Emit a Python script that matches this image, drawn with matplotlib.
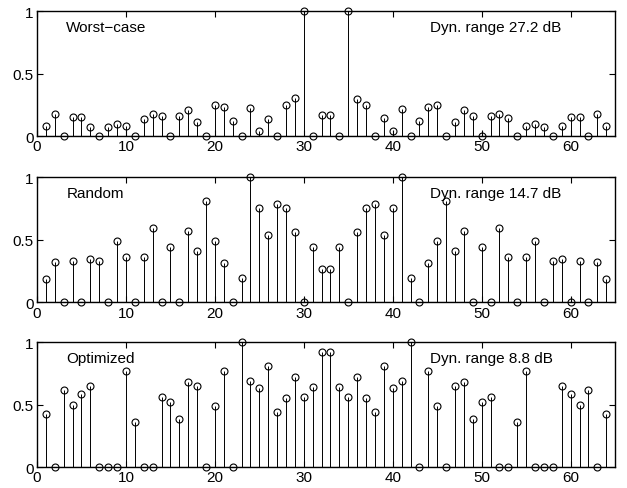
import numpy as np
import matplotlib
matplotlib.use('Agg')
import matplotlib.pyplot as plt

plt.rcParams['font.family'] = ['Liberation Sans', 'DejaVu Sans']
plt.rcParams['font.size'] = 11

# subcarrier index
n = np.arange(1, 65)

# normalised amplitudes
worst_case = [0.08, 0.18, 0, 0.155, 0.155, 0.075, 0, 0.072, 0.094, 0.078,
              0, 0.136, 0.176, 0.158, 0, 0.163, 0.206, 0.11, 0, 0.249,
              0.23, 0.118, 0, 0.225, 0.04, 0.139, 0, 0.251, 0.305, 1.0,
              0, 0.168, 0.168, 0, 1.0, 0.30, 0.25, 0, 0.144, 0.04,
              0.22, 0, 0.12, 0.23, 0.25, 0, 0.11, 0.206, 0.163, 0,
              0.16, 0.18, 0.142, 0, 0.078, 0.094, 0.075, 0, 0.078, 0.155,
              0.155, 0, 0.176, 0.078]
random_ = [0.184, 0.325, 0, 0.328, 0, 0.344, 0.333, 0, 0.488, 0.36,
           0, 0.36, 0.597, 0, 0.44, 0, 0.573, 0.408, 0.81, 0.493,
           0.317, 0, 0.19, 1.0, 0.75, 0.539, 0.787, 0.75, 0.56, 0,
           0.44, 0.267, 0.267, 0.44, 0, 0.56, 0.75, 0.787, 0.539, 0.75,
           1.0, 0.19, 0, 0.317, 0.493, 0.81, 0.408, 0.573, 0, 0.44,
           0, 0.597, 0.36, 0, 0.36, 0.488, 0, 0.333, 0.344, 0,
           0.328, 0, 0.325, 0.184]
optimized = [0.424, 0, 0.619, 0.493, 0.587, 0.651, 0, 0, 0, 0.771,
             0.36, 0, 0, 0.557, 0.523, 0.384, 0.68, 0.648, 0, 0.485,
             0.768, 0, 1.0, 0.685, 0.629, 0.805, 0.443, 0.552, 0.717, 0.557,
             0.637, 0.92, 0.92, 0.637, 0.557, 0.717, 0.552, 0.443, 0.805, 0.629,
             0.685, 1.0, 0, 0.768, 0.485, 0, 0.648, 0.68, 0.384, 0.523,
             0.557, 0, 0, 0.36, 0.771, 0, 0, 0, 0.651, 0.587,
             0.493, 0.619, 0, 0.424]

labels = ['Worst\u2212case', 'Random', 'Optimized']
dyn_range = ['Dyn. range 27.2 dB', 'Dyn. range 14.7 dB', 'Dyn. range 8.8 dB']
series = [worst_case, random_, optimized]

fig = plt.figure(figsize=(6.27, 4.89), dpi=100)
bottoms = [0.7198, 0.380, 0.0429]

for k in range(3):
    ax = fig.add_axes([0.059, bottoms[k], 0.922, 0.2556])
    ml, sl, bl = ax.stem(n, series[k], linefmt='k-', markerfmt='ko', basefmt='k-')
    ml.set_markerfacecolor('none')
    ml.set_markersize(5)
    ml.set_markeredgewidth(0.8)
    ml.set_clip_on(False)
    sl.set_linewidth(0.7)
    bl.set_linewidth(0.8)
    ax.set_xlim(0, 65)
    ax.set_ylim(0, 1)
    ax.set_xticks(np.arange(0, 61, 10))
    ax.set_yticks([0, 0.5, 1])
    ax.set_yticklabels(['0', '0.5', '1'])
    ax.tick_params(direction='in', length=4, top=True, right=True, pad=2.5)
    for s in ax.spines.values():
        s.set_linewidth(1.0)
    ax.text(3.3, 0.87, labels[k], va='center', ha='left')
    ax.text(44.2, 0.87, dyn_range[k], va='center', ha='left')

fig.savefig('out.png', dpi=100)
